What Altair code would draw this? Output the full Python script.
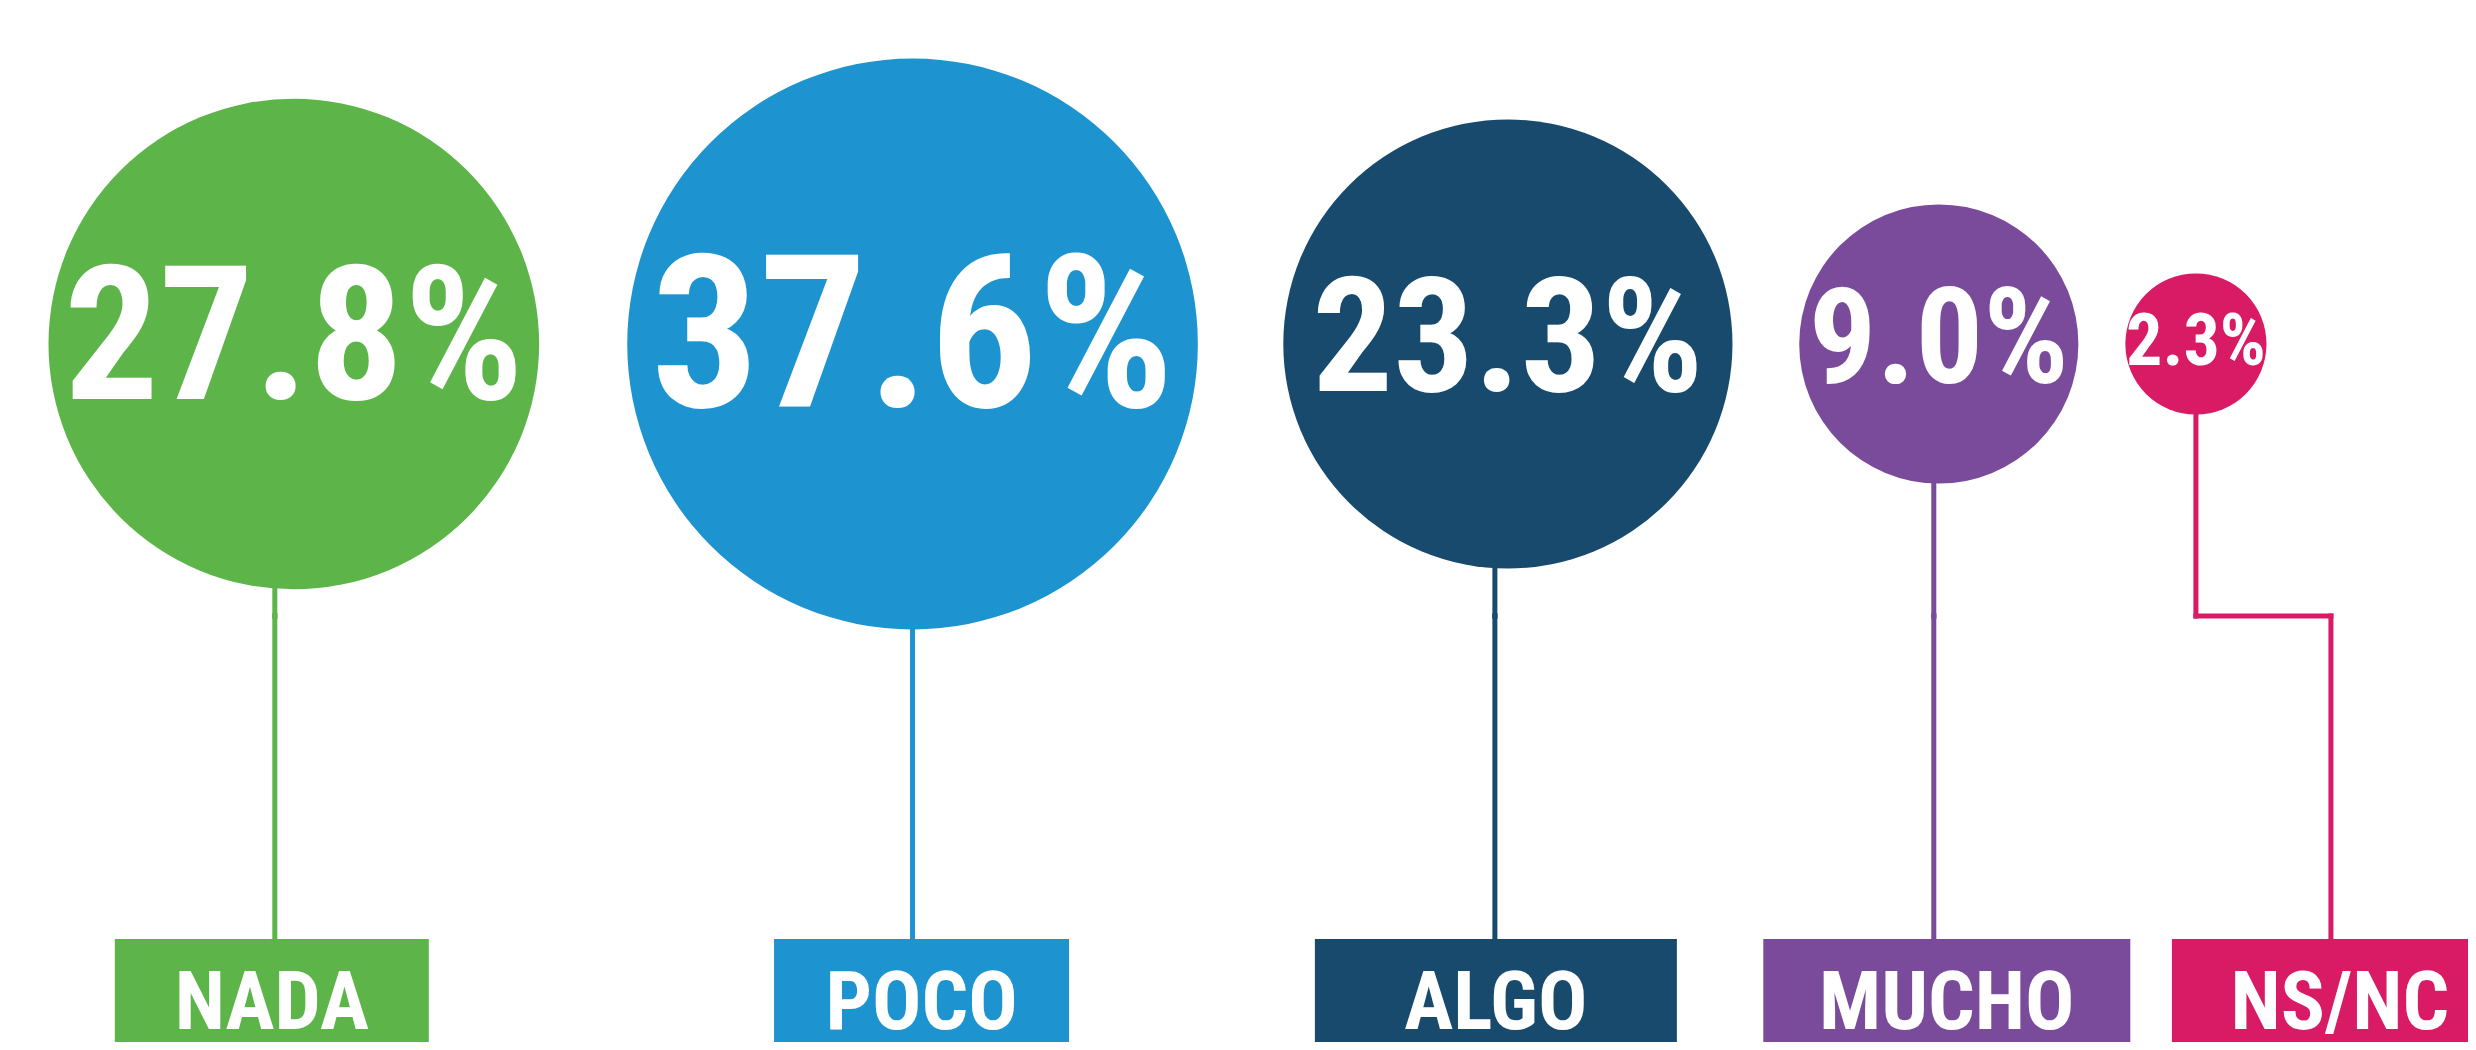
import math
import altair as alt
import pandas as pd

# ---- data ----
categories = ["NADA", "POCO", "ALGO", "MUCHO", "NS/NC"]
values = [27.8, 37.6, 23.3, 9.0, 2.3]
colors = ["#5DB54A", "#1D93D0", "#174A6C", "#7A4B9B", "#D81B64"]

# ---- layout / style ----
W, H = 2460, 1034
K = 52.5          # radius = K * sqrt(value)
GAP = 20
LEFT = 9
CY = 336
ELBOW_Y = 608
BOX_TOP = 931
LABEL_Y = 996
LINE_SHIFT = [-19, 0, -13, -5, 135]
BOX_SHIFT = [-3, 9, 1, 13, 9]
BOX_W = [314, 295, 362, 367, 336]
PCT_FONT = [188, 214, 160, 134, 72]
FONT = "Roboto Condensed, Open Sans Condensed, sans-serif"

df = pd.DataFrame({
    "cat": categories,
    "value": values,
    "idx": list(range(len(categories))),
    "line_shift": LINE_SHIFT,
    "box_shift": BOX_SHIFT,
    "box_w": BOX_W,
})

xs = alt.Scale(domain=[0, W], range=[0, W])
ys = alt.Scale(domain=[0, H], range=[0, H])
col = alt.Color("cat:N", scale=alt.Scale(domain=categories, range=colors), legend=None)

base = alt.Chart(df).transform_calculate(
    r=f"{K}*sqrt(datum.value)",
    d=f"2*{K}*sqrt(datum.value)+{GAP}",
).transform_window(
    cum="sum(d)", sort=[alt.SortField("idx")], frame=[None, 0]
).transform_calculate(
    cx=f"{LEFT}+datum.cum-{GAP}-datum.r",
).transform_calculate(
    lx="datum.cx+datum.line_shift",
    vx="abs(datum.line_shift)>60 ? datum.cx : datum.cx+datum.line_shift",
    bx="datum.cx+datum.line_shift+datum.box_shift",
    cy=f"{CY}",
    elbow=f"{ELBOW_Y}",
    boxtop=f"{BOX_TOP}",
    boxbot=f"{H}",
    laby=f"{LABEL_Y}",
    label="format(datum.value,'.1f')+'%'",
).transform_calculate(
    bx1="datum.bx-datum.box_w/2",
    bx2="datum.bx+datum.box_w/2",
)

seg1 = base.mark_rule(strokeWidth=5, strokeCap="square").encode(
    x=alt.X("vx:Q", scale=xs, axis=None),
    y=alt.Y("cy:Q", scale=ys, axis=None),
    y2="elbow:Q",
    color=col,
)
seg2 = base.mark_rule(strokeWidth=5, strokeCap="square").encode(
    x=alt.X("vx:Q", scale=xs, axis=None),
    x2="lx:Q",
    y=alt.Y("elbow:Q", scale=ys, axis=None),
    color=col,
)
seg3 = base.mark_rule(strokeWidth=5, strokeCap="square").encode(
    x=alt.X("lx:Q", scale=xs, axis=None),
    y=alt.Y("elbow:Q", scale=ys, axis=None),
    y2="boxtop:Q",
    color=col,
)

circles = base.mark_circle(opacity=1).encode(
    x=alt.X("cx:Q", scale=xs, axis=None),
    y=alt.Y("cy:Q", scale=ys, axis=None),
    size=alt.Size("value:Q", scale=alt.Scale(type="linear", domain=[0, 100],
                                             range=[0, math.pi * K * K * 100]), legend=None),
    color=col,
)

pct = base.mark_text(font=FONT, fontWeight="bold", color="white",
                     align="center", baseline="middle", dy=-1).encode(
    x=alt.X("cx:Q", scale=xs, axis=None),
    y=alt.Y("cy:Q", scale=ys, axis=None),
    text="label:N",
    size=alt.Size("cat:N", scale=alt.Scale(type="ordinal", domain=categories, range=PCT_FONT),
                  legend=None),
)

boxes = base.mark_rect(clip=True).encode(
    x=alt.X("bx1:Q", scale=xs, axis=None),
    x2="bx2:Q",
    y=alt.Y("boxtop:Q", scale=ys, axis=None),
    y2="boxbot:Q",
    color=col,
)

labels = base.mark_text(font=FONT, fontWeight="bold", color="white", fontSize=82,
                        align="center", baseline="middle").encode(
    x=alt.X("bx:Q", scale=xs, axis=None),
    y=alt.Y("laby:Q", scale=ys, axis=None),
    text="cat:N",
)

chart = alt.layer(seg1, seg2, seg3, circles, pct, boxes, labels).properties(
    width=W, height=H, padding=0, autosize=alt.AutoSizeParams(type="none"),
    background="white",
).configure_view(stroke=None)

chart.save("out.html", embed_options={"renderer": "svg", "actions": False})
